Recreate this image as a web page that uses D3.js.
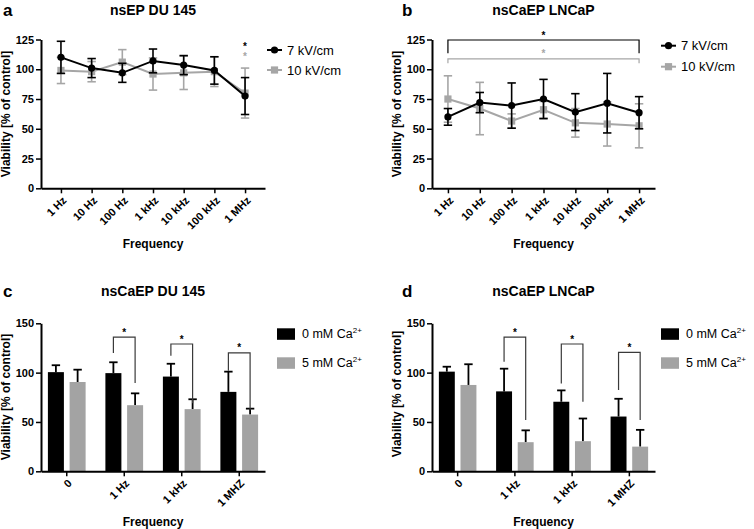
<!DOCTYPE html>
<html><head><meta charset="utf-8">
<script src="https://cdn.jsdelivr.net/npm/d3@7"></script>
<style>body{margin:0;background:#fff} svg{display:block}</style>
</head><body><svg id="chart" width="754" height="529"></svg>
<script>
// ---------- data ----------
const freqs = ["1 Hz","10 Hz","100 Hz","1 kHz","10 kHz","100 kHz","1 MHz"];
const lineSeriesNames = ["7 kV/cm","10 kV/cm"];
const yTicksLine = [0,25,50,75,100,125];

const aBlack    = [110, 101, 97, 107, 103.5, 99, 77.5];
const aBlackErr = [13.5, 8, 8, 10, 8, 11.5, 15.5];
const aGray     = [99, 98, 106, 96, 97, 98, 80];
const aGrayErr  = [11, 8.5, 10.5, 13.5, 14, 12.5, 21];
const aStarValues = [120.5, 112.5]; // at 1 MHz (black, gray)

const bBlack    = [60, 72, 69.5, 75, 64, 71.5, 63.5];
const bBlackErr = [7, 8.5, 19, 16.5, 15.5, 25, 13.5];
const bGray     = [75, 67, 56.5, 66, 55, 54, 52.5];
const bGrayErr  = [19.5, 22, 6, 7, 12, 18.5, 18.5];
const bBracketTop  = [124.6, 108.7]; // black, gray (1 Hz to 1 MHz)
const bBracketLeg  = [113.4, 105];
const bBracketStar = [129.7, 114.5];

const barCats = ["0","1 Hz","1 kHz","1 MHZ"];
const barSeriesNames = ["0 mM Ca","5 mM Ca"];
const yTicksBar = [0,50,100,150];

const c0    = [100.5, 99.5, 96, 80.5];
const c0Err = [7, 11, 13, 20.5];
const c5    = [90.5, 67, 63, 57.5];
const c5Err = [12.5, 12, 10, 6];
const cBrCats  = ["1 Hz","1 kHz","1 MHZ"];
const cBrTop   = [136, 129, 120];
const cBrLeft  = [120, 117, 102];
const cBrRight = [89.5, 69, 62];

const d0    = [101, 81, 70.5, 55.5];
const d0Err = [5, 23, 11.5, 18];
const d5    = [87.5, 29.5, 30.5, 25];
const d5Err = [21, 12, 23, 17];
const dBrCats  = ["1 Hz","1 kHz","1 MHZ"];
const dBrTop   = [136, 129, 120.5];
const dBrLeft  = [111, 89, 82.5];
const dBrRight = [52, 70.5, 52];

// ---------- drawing ----------
const FONT = '"Liberation Sans", Arial, Helvetica, sans-serif';
const BLACK = "#000", GRAY = "#a6a6a6", BARGRAY = "#a3a3a3", BRACKET = "#3a3a3a";
const svg = d3.select("#chart").style("font-family", FONT);

function styleAxis(g) {
  g.attr("font-family", FONT);
  g.select(".domain").attr("stroke", "#000").attr("stroke-width", 2);
  g.selectAll(".tick line").attr("stroke", "#000").attr("stroke-width", 1.5);
  g.selectAll(".tick text").attr("font-size", 11).attr("font-weight", "bold").attr("fill", "#000");
}

function drawAxes(x, y, yTicks, left, bottom) {
  const gy = svg.append("g").attr("transform", `translate(${left},0)`)
    .call(d3.axisLeft(y).tickValues(yTicks).tickSize(5).tickSizeOuter(0).tickPadding(2));
  styleAxis(gy);
  const gx = svg.append("g").attr("transform", `translate(0,${bottom})`)
    .call(d3.axisBottom(x).tickSize(5).tickSizeOuter(0));
  styleAxis(gx);
  gx.selectAll(".tick text").attr("text-anchor", "end").attr("x", 0).attr("y", 0)
    .attr("dy", "0.35em").attr("transform", "translate(3,10) rotate(-45)");
}

function texts(title, tx, letter, lx, ly, ylabX, ylabY, xlabY) {
  svg.append("text").attr("x", lx).attr("y", ly + 1).attr("font-size", 17).attr("font-weight", "bold").text(letter);
  svg.append("text").attr("x", tx).attr("y", ly).attr("text-anchor", "middle")
    .attr("font-size", 14).attr("font-weight", "bold").text(title);
  svg.append("text").attr("transform", `translate(${ylabX},${ylabY}) rotate(-90)`).attr("text-anchor", "middle")
    .attr("font-size", 12).attr("font-weight", "bold").text("Viability [% of control]");
  svg.append("text").attr("x", tx).attr("y", xlabY).attr("text-anchor", "middle")
    .attr("font-size", 12).attr("font-weight", "bold").text("Frequency");
}

function star(x, cy, color) {
  svg.append("text").attr("x", x).attr("y", cy + 5.5).attr("text-anchor", "middle")
    .attr("font-size", 10).attr("font-weight", "bold").attr("fill", color).text("*");
}

function marker(g, shape, color, cx, cy) {
  if (shape === "circle") g.append("circle").attr("cx", cx).attr("cy", cy).attr("r", 3.6).attr("fill", color);
  else g.append("rect").attr("x", cx - 3.6).attr("y", cy - 3.6).attr("width", 7.2).attr("height", 7.2).attr("fill", color);
}

function linePanel(o) {
  const x = d3.scalePoint().domain(freqs).range([o.left, o.right]).padding(o.pad);
  const y = d3.scaleLinear().domain([0, 125]).range([188.3, 39.5]);
  drawAxes(x, y, yTicksLine, o.left, 188.3);
  const series = [
    {vals: o.gray, errs: o.grayErr, color: GRAY, shape: "square"},
    {vals: o.black, errs: o.blackErr, color: BLACK, shape: "circle"}
  ];
  series.forEach(s => {
    const g = svg.append("g");
    const pts = freqs.map((f, i) => ({x: x(f), v: s.vals[i], e: s.errs[i]}));
    pts.forEach(p => {
      g.append("line").attr("x1", p.x).attr("x2", p.x).attr("y1", y(p.v - p.e)).attr("y2", y(p.v + p.e))
        .attr("stroke", s.color).attr("stroke-width", 1.6);
      [p.v - p.e, p.v + p.e].forEach(v => g.append("line").attr("x1", p.x - 4.2).attr("x2", p.x + 4.2)
        .attr("y1", y(v)).attr("y2", y(v)).attr("stroke", s.color).attr("stroke-width", 1.6));
    });
    g.append("path").datum(pts).attr("fill", "none").attr("stroke", s.color).attr("stroke-width", 2)
      .attr("d", d3.line().x(d => d.x).y(d => y(d.v)));
    pts.forEach(p => marker(g, s.shape, s.color, p.x, y(p.v)));
  });
  // legend
  [{c: BLACK, s: "circle", yy: o.legY[0], n: lineSeriesNames[0]},
   {c: GRAY, s: "square", yy: o.legY[1], n: lineSeriesNames[1]}].forEach(l => {
    const g = svg.append("g");
    g.append("line").attr("x1", o.legX).attr("x2", o.legX + 15).attr("y1", l.yy).attr("y2", l.yy)
      .attr("stroke", l.c).attr("stroke-width", 2);
    marker(g, l.s, l.c, o.legX + 7.5, l.yy);
    g.append("text").attr("x", o.legX + 20).attr("y", l.yy + 4.5).attr("font-size", 13).text(l.n);
  });
  return {x, y};
}

// Panel a
const A = linePanel({left: 41, right: 265, pad: 0.65, black: aBlack, blackErr: aBlackErr,
  gray: aGray, grayErr: aGrayErr, legX: 267, legY: [50, 70]});
star(A.x("1 MHz"), A.y(aStarValues[0]), BLACK);
star(A.x("1 MHz"), A.y(aStarValues[1]), GRAY);
texts("nsEP DU 145", 153, "a", 3, 15, 10, 114, 248);

// Panel b
const B = linePanel({left: 432, right: 655, pad: 0.5, black: bBlack, blackErr: bBlackErr,
  gray: bGray, grayErr: bGrayErr, legX: 661, legY: [45.7, 66.7]});
[BLACK, GRAY].forEach((c, i) => {
  const xl = B.x(freqs[0]), xr = B.x(freqs[freqs.length - 1]);
  svg.append("path").attr("fill", "none").attr("stroke", c).attr("stroke-width", 1.2)
    .attr("d", `M${xl},${B.y(bBracketLeg[i])}V${B.y(bBracketTop[i])}H${xr}V${B.y(bBracketLeg[i])}`);
  star((xl + xr) / 2, B.y(bBracketStar[i]), c);
});
texts("nsCaEP LNCaP", 543.5, "b", 402, 15, 401, 114, 248);

// Bar panels
function barPanel(o) {
  const x0 = d3.scaleBand().domain(barCats).range([o.left, o.right]).paddingInner(0.344).paddingOuter(0.12);
  const x1 = d3.scaleBand().domain(barSeriesNames).range([0, x0.bandwidth()]).paddingInner(0.263);
  const y = d3.scaleLinear().domain([0, 150]).range([471.3, 323.3]);
  const series = [
    {name: barSeriesNames[0], vals: o.v0, errs: o.e0, color: BLACK},
    {name: barSeriesNames[1], vals: o.v5, errs: o.e5, color: BARGRAY}
  ];
  series.forEach(s => {
    const g = svg.append("g");
    barCats.forEach((c, i) => {
      const bx = x0(c) + x1(s.name), bw = x1.bandwidth(), cx = bx + bw / 2;
      g.append("line").attr("x1", cx).attr("x2", cx).attr("y1", y(s.vals[i])).attr("y2", y(s.vals[i] + s.errs[i]))
        .attr("stroke", "#000").attr("stroke-width", 1.8);
      g.append("line").attr("x1", cx - 4.2).attr("x2", cx + 4.2).attr("y1", y(s.vals[i] + s.errs[i]))
        .attr("y2", y(s.vals[i] + s.errs[i])).attr("stroke", "#000").attr("stroke-width", 1.8);
      g.append("rect").attr("x", bx).attr("y", y(s.vals[i])).attr("width", bw)
        .attr("height", y(0) - y(s.vals[i])).attr("fill", s.color);
    });
  });
  drawAxes(x0, y, yTicksBar, o.left, 471.3);
  // brackets
  o.brCats.forEach((c, i) => {
    const xl = x0(c) + x1(barSeriesNames[0]) + x1.bandwidth() / 2;
    const xr = x0(c) + x1(barSeriesNames[1]) + x1.bandwidth() / 2;
    svg.append("path").attr("fill", "none").attr("stroke", BRACKET).attr("stroke-width", 1.2)
      .attr("d", `M${xl},${y(o.brLeft[i])}V${y(o.brTop[i])}H${xr}V${y(o.brRight[i])}`);
    star((xl + xr) / 2, y(o.brTop[i]) - 7, BLACK);
  });
  // legend
  series.forEach((s, i) => {
    const ly = 328.3 + i * 29;
    svg.append("rect").attr("x", o.legX).attr("y", ly).attr("width", 18).attr("height", 11.5).attr("fill", s.color);
    const t = svg.append("text").attr("x", o.legX + 25).attr("y", ly + 10).attr("font-size", 12.5);
    t.append("tspan").text(s.name);
    t.append("tspan").attr("font-size", 8).attr("dy", -5).text("2+");
  });
}

barPanel({left: 41, right: 265, v0: c0, e0: c0Err, v5: c5, e5: c5Err,
  brCats: cBrCats, brTop: cBrTop, brLeft: cBrLeft, brRight: cBrRight, legX: 277});
texts("nsCaEP DU 145", 153, "c", 3, 296, 10, 397, 526);

barPanel({left: 432, right: 655, v0: d0, e0: d0Err, v5: d5, e5: d5Err,
  brCats: dBrCats, brTop: dBrTop, brLeft: dBrLeft, brRight: dBrRight, legX: 661});
texts("nsCaEP LNCaP", 543.5, "d", 402, 296, 401, 394, 526);
</script></body></html>
